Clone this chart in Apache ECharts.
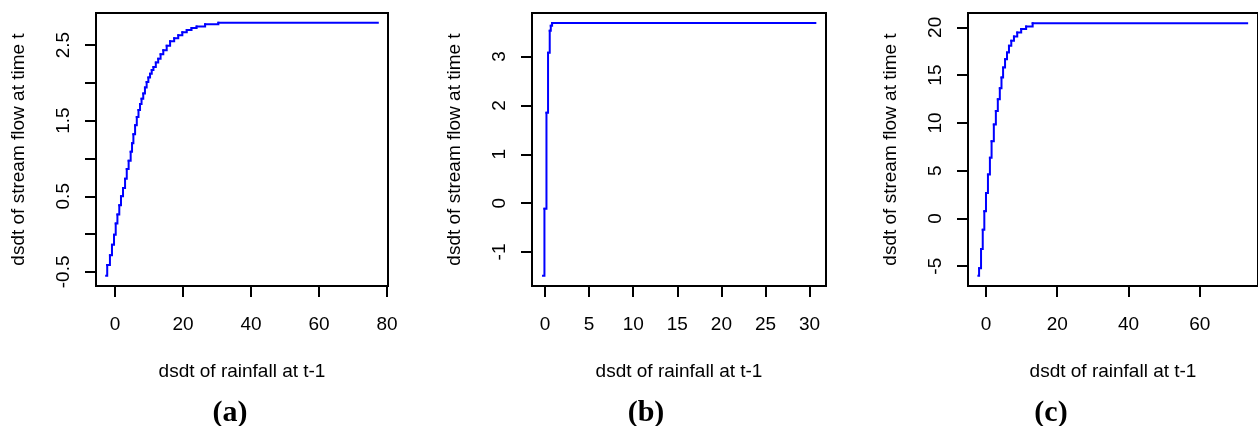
<!DOCTYPE html>
<html>
<head>
<meta charset="utf-8">
<script src="https://cdn.jsdelivr.net/npm/echarts@6/dist/echarts.min.js"></script>
<style>
  html, body { margin: 0; padding: 0; background: #fff; }
  #chart { width: 1258px; height: 426px; }
</style>
</head>
<body>
<div id="chart"></div>
<script>
const chart = echarts.init(document.getElementById('chart'), null, { renderer: 'canvas' });

// panel (a): step points
const rainA = [-2.6, -2.3, -1.5, -0.9, -0.3, 0.2, 0.7, 1.25, 1.75, 2.35, 2.95, 3.45, 4.0, 4.6, 5.0, 5.4, 5.9, 6.4, 6.9, 7.35,
  7.8, 8.3, 8.8, 9.3, 9.8, 10.3, 10.8, 11.3, 12.0, 12.7, 13.4, 14.2, 15.2, 16.2, 17.4, 18.6, 19.8, 21.1, 22.5, 24, 26.5, 30.4, 77.3];
const flowA = [-0.553, -0.41, -0.28, -0.14, -0.01, 0.14, 0.26, 0.38, 0.5, 0.61, 0.73, 0.86, 0.97, 1.09, 1.2, 1.32, 1.44, 1.55, 1.64, 1.72,
  1.79, 1.86, 1.94, 2.01, 2.07, 2.12, 2.17, 2.21, 2.27, 2.32, 2.38, 2.43, 2.49, 2.55, 2.59, 2.63, 2.67, 2.70, 2.725, 2.745, 2.775, 2.795, 2.795];

// panel (b)
const rainB = [-0.23, -0.07, 0.16, 0.34, 0.53, 0.65, 0.8, 30.65];
const flowB = [-1.485, -0.116, 1.85, 3.08, 3.53, 3.63, 3.685, 3.685];

// panel (c)
const rainC = [-2.13, -1.94, -1.39, -0.91, -0.47, 0, 0.55, 1.1, 1.57, 2.2, 2.77, 3.32, 3.88, 4.35, 4.8, 5.35, 5.9, 6.45, 7.1,
  7.85, 8.77, 9.88, 11.27, 13.1, 73.3];
const flowC = [-5.99, -5.21, -3.21, -1.19, 0.74, 2.67, 4.59, 6.34, 8.09, 9.84, 11.24, 12.47, 13.62, 14.75, 15.8, 16.67, 17.37, 18.07, 18.6,
  19.05, 19.47, 19.82, 20.1, 20.42, 20.42];

// ticks and labels
const xTicksA = [0, 20, 40, 60, 80];
const yTicksA = [-0.5, 0, 0.5, 1, 1.5, 2, 2.5];
const yLabelsA = [-0.5, 0.5, 1.5, 2.5];
const xTicksB = [0, 5, 10, 15, 20, 25, 30];
const yTicksB = [-1, 0, 1, 2, 3];
const xTicksC = [0, 20, 40, 60];
const yTicksC = [-5, 0, 5, 10, 15, 20];
const captions = ['(a)', '(b)', '(c)'];

const xTitle = 'dsdt of rainfall at t-1';
const yTitle = 'dsdt of stream flow at time t';

const sans = 'Liberation Sans, Arial, sans-serif';
const fs = 19;

// each item carries the next point so the tread + riser can be drawn
function stepItems(xs, ys) {
  return xs.map((x, i) => {
    const j = Math.min(i + 1, xs.length - 1);
    return [x, ys[i], xs[j], ys[j]];
  });
}

// horizontal tread then vertical riser, both through the axis scales
function renderStep(params, api) {
  const x0 = api.value(0), y0 = api.value(1), x1 = api.value(2), y1 = api.value(3);
  if (x0 === x1 && y0 === y1) return null;
  const p0 = api.coord([x0, y0]);
  const p1 = api.coord([x1, y0]);
  const p2 = api.coord([x1, y1]);
  return {
    type: 'polyline',
    shape: { points: [p0, p1, p2] },
    style: { stroke: '#0000ff', lineWidth: 2, fill: null, lineJoin: 'miter', lineCap: 'square' }
  };
}

function xAxis(idx, min, max, ticks) {
  return {
    type: 'value', gridIndex: idx, min: min, max: max,
    splitLine: { show: false },
    axisLine: { show: false, onZero: false },
    axisTick: { show: true, length: 11, lineStyle: { color: '#000', width: 2 }, customValues: ticks },
    axisLabel: { color: '#000', fontFamily: sans, fontSize: fs, margin: 29, customValues: ticks },
    name: xTitle, nameLocation: 'middle', nameGap: 76,
    nameTextStyle: { color: '#000', fontFamily: sans, fontSize: fs }
  };
}

function yAxis(idx, min, max, ticks, labels) {
  return {
    type: 'value', gridIndex: idx, min: min, max: max,
    splitLine: { show: false },
    axisLine: { show: false, onZero: false },
    axisTick: { show: true, length: 11, lineStyle: { color: '#000', width: 2 }, customValues: ticks },
    axisLabel: { color: '#000', fontFamily: sans, fontSize: fs, margin: 23, rotate: 90, customValues: labels },
    name: yTitle, nameLocation: 'middle', nameGap: 68, nameRotate: 90,
    nameTextStyle: { color: '#000', fontFamily: sans, fontSize: fs }
  };
}

const gridBase = { top: 13, height: 273, width: 292, show: true, borderColor: '#000', borderWidth: 2, backgroundColor: '#fff' };

const option = {
  animation: false,
  backgroundColor: '#fff',
  title: captions.map((c, i) => ({
    text: c,
    left: [225, 641, 1046][i],
    top: 393,
    textAlign: 'center',
    textStyle: { fontFamily: 'Liberation Serif, Times New Roman, serif', fontWeight: 'bold', fontSize: 30, color: '#000' }
  })),
  grid: [
    Object.assign({}, gridBase, { left: 96 }),
    Object.assign({}, gridBase, { left: 532, width: 294 }),
    Object.assign({}, gridBase, { left: 968, width: 294 })
  ],
  xAxis: [
    xAxis(0, -5.6, 80.3, xTicksA),
    xAxis(1, -1.48, 31.86, xTicksB),
    xAxis(2, -5.05, 76.35, xTicksC)
  ],
  yAxis: [
    yAxis(0, -0.687, 2.924, yTicksA, yLabelsA),
    yAxis(1, -1.697, 3.892, yTicksB, yTicksB),
    yAxis(2, -7.07, 21.5, yTicksC, yTicksC)
  ],
  series: [
    { xAxisIndex: 0, yAxisIndex: 0, data: stepItems(rainA, flowA) },
    { xAxisIndex: 1, yAxisIndex: 1, data: stepItems(rainB, flowB) },
    { xAxisIndex: 2, yAxisIndex: 2, data: stepItems(rainC, flowC) }
  ].map(s => Object.assign(s, {
    type: 'custom', silent: true, clip: true,
    encode: { x: 0, y: 1 },
    renderItem: renderStep
  }))
};

chart.setOption(option);
</script>
</body>
</html>
